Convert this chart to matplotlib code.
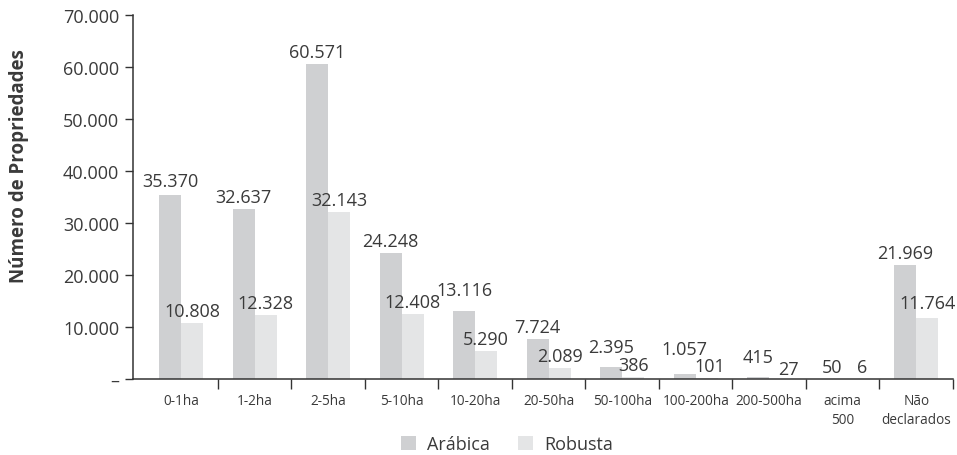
import matplotlib
matplotlib.use("Agg")
import matplotlib.pyplot as plt
import numpy as np
from matplotlib.ticker import FuncFormatter

categories = ["0-1ha", "1-2ha", "2-5ha", "5-10ha", "10-20ha", "20-50ha", "50-100ha",
              "100-200ha", "200-500ha", "acima\n500", "Não\ndeclarados"]
arabica = [35370, 32637, 60571, 24248, 13116, 7724, 2395, 1057, 415, 50, 21969]
robusta = [10808, 12328, 32143, 12408, 5290, 2089, 386, 101, 27, 6, 11764]
series_names = ["Arábica", "Robusta"]
y_ticks = [0, 10000, 20000, 30000, 40000, 50000, 60000, 70000]

# layout tweaks for value labels (pixel nudges: (series, category) -> (dx, dy))
label_nudge = {(0, 0): (0, 2), (0, 4): (0, 9), (0, 6): (0, 8), (0, 7): (0, 13),
               (0, 8): (0, 8), (1, 7): (3, 0), (1, 8): (8, -2), (1, 9): (8, 0),
               (1, 10): (0, 3)}

plt.rcParams['font.family'] = ['Open Sans', 'DejaVu Sans']
text_color = "#3a3a3a"
col_a = "#cfd0d2"
col_r = "#e4e5e6"

fig = plt.figure(figsize=(9.57, 4.56), dpi=100)
ax = fig.add_axes([133/957, 1-380/456, (953-133)/957, (380-16)/456])

x = np.arange(len(categories))
w = 0.30
ba = ax.bar(x - w/2, arabica, w, color=col_a, label=series_names[0])
br = ax.bar(x + w/2, robusta, w, color=col_r, label=series_names[1])

def fmt(v):
    return f"{int(v):,}".replace(",", ".")

px = 72 / 100  # points per pixel
for si, (bars, vals) in enumerate(((ba, arabica), (br, robusta))):
    for ci, (b, v) in enumerate(zip(bars, vals)):
        dx, dy = label_nudge.get((si, ci), (0, 0))
        ax.annotate(fmt(v), (b.get_x() + b.get_width()/2, v),
                    xytext=(dx * px, (7 + dy) * px),
                    textcoords="offset points", ha="center", va="baseline",
                    fontsize=13, color=text_color)

ax.set_xlim(-0.655, len(categories) - 0.5)
ax.set_ylim(0, 70000)
ax.set_yticks(y_ticks)
ax.yaxis.set_major_formatter(FuncFormatter(lambda v, p: "–" if v == 0 else fmt(v)))
ax.tick_params(axis='y', labelsize=13, labelcolor=text_color, color="#333333",
               length=6, width=1, direction='out', pad=4)

ax.set_xticks(x)
ax.set_xticklabels(categories, fontsize=9.8, color=text_color, linespacing=1.35)
ax.tick_params(axis='x', length=0, pad=10)
ax.set_xticks(np.arange(0.5, len(categories), 1.0), minor=True)
ax.tick_params(axis='x', which='minor', length=7, width=1, color="#333333", direction='out')

for s in ("top", "right"):
    ax.spines[s].set_visible(False)
for s in ("left", "bottom"):
    ax.spines[s].set_color("#333333")
    ax.spines[s].set_linewidth(1.1)

ax.set_ylabel("Número de Propriedades", fontsize=13.5, fontweight='bold', color=text_color)
ax.yaxis.set_label_coords((29 - 133) / 820, (380 - 166) / 364)

leg = fig.legend(handles=[ba, br], labels=series_names, loc='center', ncol=2,
                 bbox_to_anchor=(507/957, 1-445/456), frameon=False, fontsize=13,
                 handlelength=0.83, handleheight=0.83, columnspacing=1.6, handletextpad=0.6,
                 borderpad=0.1)
for t in leg.get_texts():
    t.set_color(text_color)

fig.savefig("out.png", dpi=100)
